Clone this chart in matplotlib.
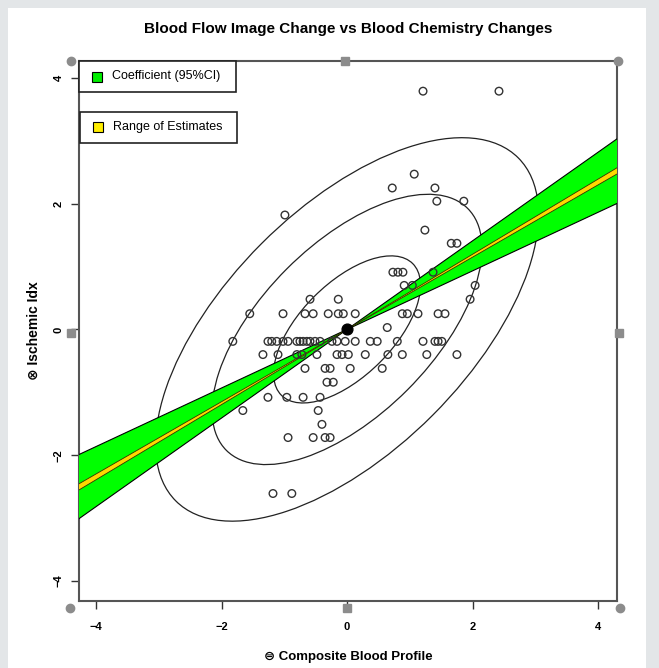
import matplotlib.pyplot as plt
import numpy as np
from matplotlib.patches import Rectangle, Ellipse

# scatter data
x_pts = [1.21, 2.42,
         1.07,
         0.72, 1.40,
         1.43, 1.86,
         -0.99,
         1.24,
         1.66, 1.75,
         0.73, 0.81, 0.89, 1.37,
         0.91, 1.04, 2.04,
         -0.59, -0.14, 1.96,
         -1.55, -1.02, -0.67, -0.54, -0.30, -0.14, -0.06, 0.13, 0.88, 0.96, 1.13, 1.45, 1.56,
         0.64,
         -1.82, -1.26, -1.20, -1.12, -1.02, -0.94, -0.80, -0.75, -0.70, -0.64, -0.59, -0.51,
         -0.43, -0.24, -0.16, -0.03, 0.13, 0.37, 0.48, 0.80, 1.21, 1.40, 1.45, 1.51,
         -1.34, -1.10, -0.80, -0.72, -0.48, -0.16, -0.08, 0.02, 0.29, 0.65, 0.88, 1.27, 1.75,
         -0.67, -0.35, -0.27, 0.05, 0.56,
         -0.32, -0.22,
         -1.26, -0.96, -0.70, -0.43,
         -1.66, -0.46,
         -0.40,
         -0.94, -0.54, -0.35, -0.27,
         -1.18, -0.88]
y_pts = [3.79, 3.79,
         2.47,
         2.25, 2.25,
         2.04, 2.04,
         1.82,
         1.58,
         1.37, 1.37,
         0.91, 0.91, 0.91, 0.91,
         0.70, 0.70, 0.70,
         0.48, 0.48, 0.48,
         0.25, 0.25, 0.25, 0.25, 0.25, 0.25, 0.25, 0.25, 0.25, 0.25, 0.25, 0.25, 0.25,
         0.03,
         -0.19, -0.19, -0.19, -0.19, -0.19, -0.19, -0.19, -0.19, -0.19, -0.19, -0.19, -0.19,
         -0.19, -0.19, -0.19, -0.19, -0.19, -0.19, -0.19, -0.19, -0.19, -0.19, -0.19, -0.19,
         -0.40, -0.40, -0.40, -0.40, -0.40, -0.40, -0.40, -0.40, -0.40, -0.40, -0.40, -0.40, -0.40,
         -0.62, -0.62, -0.62, -0.62, -0.62,
         -0.84, -0.84,
         -1.08, -1.08, -1.08, -1.08,
         -1.29, -1.29,
         -1.51,
         -1.72, -1.72, -1.72, -1.72,
         -2.61, -2.61]

# ellipse levels (half widths along x) and correlation
ell_half = [1.17, 2.15, 3.05]
corr = 0.60

# coefficient fan: slopes
ci_slopes = [0.466, 0.705]
est_slopes = [0.575, 0.598]

ticks = [-4, -2, 0, 2, 4]

plt.rcParams['font.family'] = ['Liberation Sans', 'DejaVu Sans']

fig = plt.figure(figsize=(6.59, 6.68), dpi=100)
fig.patch.set_facecolor('#e3e6e8')
fig.patches.append(Rectangle((8 / 659, 0), 638 / 659, 660 / 668, transform=fig.transFigure,
                             facecolor='white', edgecolor='none', zorder=-5))

ax = fig.add_axes([79 / 659, 67 / 668, 538 / 659, 540 / 668])
ax.set_zorder(2)
ax.set_xlim(-4.27, 4.30)
ax.set_ylim(-4.32, 4.27)

# ellipses
for h in ell_half:
    c = h ** 2
    w = 2 * np.sqrt(c * (1 + corr))
    hgt = 2 * np.sqrt(c * (1 - corr))
    ax.add_patch(Ellipse((0, 0), w, hgt, angle=45, fill=False, edgecolor='#222222', lw=0.9, zorder=2))

# green fan and yellow band
xx = np.linspace(-4.5, 4.5, 201)
lo = np.minimum(ci_slopes[0] * xx, ci_slopes[1] * xx)
hi = np.maximum(ci_slopes[0] * xx, ci_slopes[1] * xx)
ax.fill_between(xx, lo, hi, facecolor='#00ff00', edgecolor='none', zorder=3)
for s in ci_slopes:
    ax.plot(xx, s * xx, color='black', lw=0.8, zorder=4)
lo2 = np.minimum(est_slopes[0] * xx, est_slopes[1] * xx)
hi2 = np.maximum(est_slopes[0] * xx, est_slopes[1] * xx)
ax.fill_between(xx, lo2, hi2, facecolor='#ffd700', edgecolor='none', zorder=5)
for s in est_slopes:
    ax.plot(xx, s * xx, color='#333300', lw=0.6, zorder=5)

# points
ax.scatter(x_pts, y_pts, s=30, facecolors='none', edgecolors='#333333', linewidths=1.0, zorder=6)
ax.scatter([0], [0], s=60, color='black', zorder=7)

# axes style
for sp in ax.spines.values():
    sp.set_color('#555555')
    sp.set_linewidth(1.5)
ax.set_xticks(ticks)
ax.set_yticks(ticks)
ax.set_xticklabels([str(t).replace('-', '\u2212') for t in ticks], fontsize=8, fontweight='bold')
ax.set_yticklabels([str(t).replace('-', '\u2212') for t in ticks], fontsize=8, fontweight='bold',
                   rotation=90, va='center')
ax.tick_params(direction='out', length=6, width=1, color='#333333')
ax.tick_params(axis='x', pad=9)
ax.tick_params(axis='y', pad=5)

ax.set_title('Blood Flow Image Change vs Blood Chemistry Changes', fontsize=11, fontweight='bold', pad=20)
ax.set_xlabel('\u229c Composite Blood Profile', fontsize=9.5, fontweight='bold', labelpad=14)
ax.set_ylabel('\u2297 Ischemic Idx', fontsize=10, fontweight='bold', labelpad=9)

# legend boxes
boxes = [(1.0, 'Coefficient (95%CI)', '#00ee00'), (0.9056, 'Range of Estimates', '#ffee00')]
bw, bh = 157 / 538, 31 / 540
for top, label, col in boxes:
    x0 = 0.0 if top == 1.0 else 1 / 538
    ax.add_patch(Rectangle((x0, top - bh), bw, bh, transform=ax.transAxes, facecolor='white',
                           edgecolor='#222222', lw=1.2, zorder=8, clip_on=False))
    ax.plot([x0 + 18 / 538], [top - bh / 2], marker='s', ms=7, mfc=col, mec='black', mew=0.8,
            transform=ax.transAxes, zorder=9, clip_on=False)
    ax.text(x0 + 33 / 538, top - bh / 2, label, transform=ax.transAxes, fontsize=9,
            va='center', ha='left', zorder=9)

# selection handles around the plot
handles_c = [(71, 61), (618, 61), (70, 608), (620, 608)]
handles_s = [(345, 61), (71, 333), (619, 333), (347, 608)]
for px, py in handles_c:
    fig.add_artist(plt.Line2D([px / 659], [1 - py / 668], marker='o', ms=6, color='#8c8c8c',
                              transform=fig.transFigure, zorder=5))
for px, py in handles_s:
    fig.add_artist(plt.Line2D([px / 659], [1 - py / 668], marker='s', ms=6, color='#8c8c8c',
                              transform=fig.transFigure, zorder=5))

fig.savefig('out.png', dpi=100)
